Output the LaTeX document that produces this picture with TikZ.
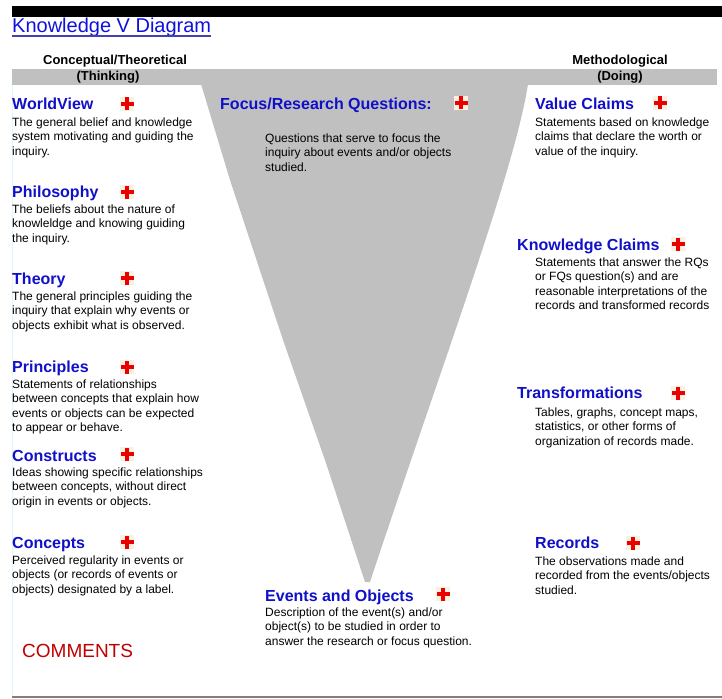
\documentclass[tikz,border=0pt]{standalone}
\usepackage{fontspec}
\setmainfont{Liberation Sans}
\usetikzlibrary{positioning}

\definecolor{vgray}{RGB}{192,192,192}
\definecolor{titleblue}{RGB}{16,16,220}
\definecolor{headblue}{RGB}{16,16,200}
\definecolor{plusred}{RGB}{235,0,0}
\definecolor{plusbg}{RGB}{250,240,226}
\definecolor{commentred}{RGB}{192,0,0}

\tikzset{
	addmark/.pic={
		\fill[plusbg] (-7,-7) rectangle (7,7);
		\fill[plusred] (-6.5,-2) rectangle (6.5,2);
		\fill[plusred] (-2,-6.5) rectangle (2,6.5);
	}
}

\begin{document}
\begin{tikzpicture}[x=1pt,y=-1pt,
		head/.style={anchor=base west,inner sep=0pt,text=headblue,font=\fontsize{16}{18}\selectfont\bfseries},
		desc/.style={anchor=north west,yshift=8.8pt,inner sep=0pt,align=left,font=\fontsize{12}{14.5}\selectfont}]
	\useasboundingbox (0,0) rectangle (722,698);

	% frame and the V
	\fill[black] (12,6) rectangle (722,17);
	\fill[vgray] (12,69) rectangle (717,85);
	\fill[vgray] (201,84) -- (230,180) -- (283,340) -- (326,463) -- (365,582) -- (370,582)
		.. controls (440,370) and (515,170) .. (528,84) -- cycle;
	\draw[cyan!12] (12,85) -- (12,696);
	\draw[gray,line width=2pt] (12,697) -- (722,697);

	% title
	\node[anchor=base west,inner sep=0pt,text=titleblue,font=\fontsize{20}{24}\selectfont] (title) at (12,33) {Knowledge V Diagram};
	\draw[titleblue!55!gray,line width=1.2pt] ([yshift=-3pt]title.base west) -- ([yshift=-3pt]title.base east);

	\begin{scope}[every node/.style={inner sep=0pt,anchor=base,font=\fontsize{13}{15}\selectfont\bfseries}]
		\node (concept) at (115,65) {Conceptual/Theoretical};
		\node (thinking) at (108,81) {(Thinking)};
		\node (method) at (620,65) {Methodological};
		\node (doing) at (620,81) {(Doing)};
	\end{scope}

	% left side
	\node[head] (worldview) at (12,110) {WorldView};
	\node[desc] (worldviewtxt) at (12,126) {The general belief and knowledge\\system motivating and guiding the\\inquiry.};
	\node[head] (philosophy) at (12,197) {Philosophy};
	\node[desc] (philosophytxt) at (12,213) {The beliefs about the nature of\\knowleldge and knowing guiding\\the inquiry.};
	\node[head] (theory) at (12,284) {Theory};
	\node[desc] (theorytxt) at (12,300) {The general principles guiding the\\inquiry that explain why events or\\objects exhibit what is observed.};
	\node[head] (principles) at (12,372) {Principles};
	\node[desc] (principlestxt) at (12,388) {Statements of relationships\\between concepts that explain how\\events or objects can be expected\\to appear or behave.};
	\node[head] (constructs) at (12,461) {Constructs};
	\node[desc] (constructstxt) at (12,476) {Ideas showing specific relationships\\between concepts, without direct\\origin in events or objects.};
	\node[head] (concepts) at (12,548) {Concepts};
	\node[desc] (conceptstxt) at (12,564) {Perceived regularity in events or\\objects (or records of events or\\objects) designated by a label.};
	\foreach \y in {104,192,278,367,454,542}
		\pic at (127,\y) {addmark};

	% middle
	\node[head] (focus) at (220,110) {Focus/Research Questions:};
	\node[desc] (focustxt) at (265,142) {Questions that serve to focus the\\inquiry about events and/or objects\\studied.};
	\pic at (461,103) {addmark};
	\node[head] (events) at (265,601) {Events and Objects};
	\node[desc] (eventstxt) at (265,616) {Description of the event(s) and/or\\object(s) to be studied in order to\\answer the research or focus question.};
	\pic at (443,594) {addmark};

	% right side
	\node[head] (value) at (535,110) {Value Claims};
	\node[desc] (valuetxt) at (535,126) {Statements based on knowledge\\claims that declare the worth or\\value of the inquiry.};
	\pic at (660,103) {addmark};
	\node[head] (knowledge) at (517,250) {Knowledge Claims};
	\node[desc] (knowledgetxt) at (535,266) {Statements that answer the RQs\\or FQs question(s) and are\\reasonable interpretations of the\\records and transformed records};
	\pic at (678,244) {addmark};
	\node[head] (transform) at (517,398) {Transformations};
	\node[desc] (transformtxt) at (535,416) {Tables, graphs, concept maps,\\statistics, or other forms of\\organization of records made.};
	\pic at (678,393) {addmark};
	\node[head] (records) at (535,548) {Records};
	\node[desc] (recordstxt) at (535,565) {The observations made and\\recorded from the events/objects\\studied.};
	\pic at (633,543) {addmark};

	\node[anchor=base west,inner sep=0pt,text=commentred,font=\fontsize{19}{22}\selectfont] (comments) at (22,657) {COMMENTS};
\end{tikzpicture}
\end{document}
